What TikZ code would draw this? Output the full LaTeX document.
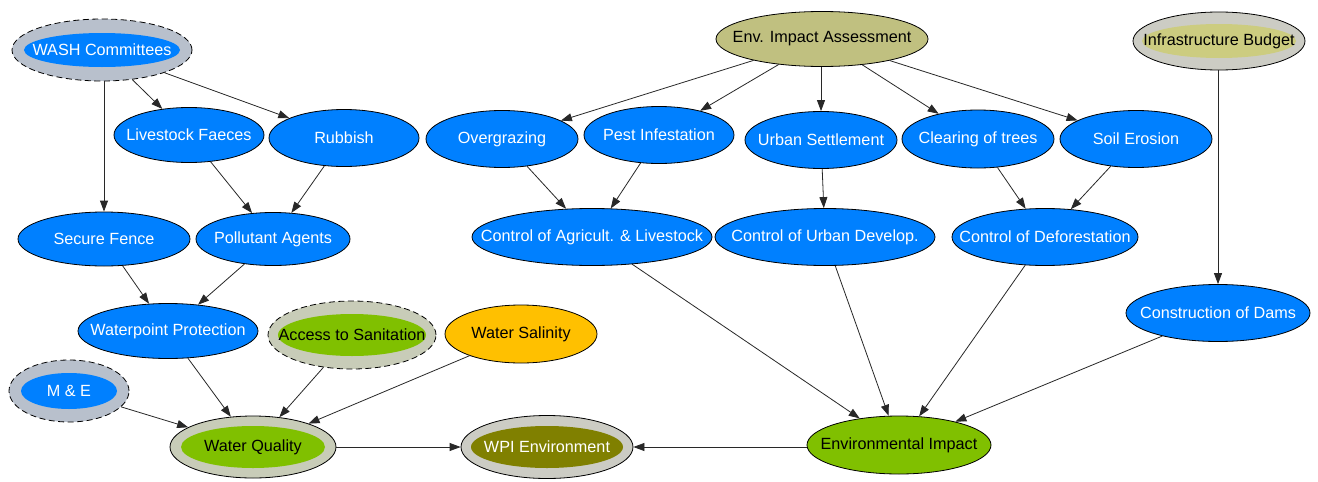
\documentclass[tikz,border=0pt]{standalone}
\usepackage{fontspec}
\setmainfont{Liberation Sans}
\usetikzlibrary{shapes.geometric,arrows.meta}
\definecolor{nblue}{RGB}{0,128,255}
\definecolor{ngreen}{RGB}{128,192,0}
\definecolor{norange}{RGB}{255,192,0}
\definecolor{nkhaki}{RGB}{192,192,128}
\definecolor{nkhakil}{RGB}{204,204,128}
\definecolor{nolive}{RGB}{128,128,0}
\definecolor{ringblue}{RGB}{184,192,204}
\definecolor{ringgreen}{RGB}{200,204,184}
\definecolor{ringgrey}{RGB}{204,204,196}
\definecolor{edgec}{RGB}{40,40,40}
\tikzset{
  nd/.style n args={3}{ellipse, draw=black, line width=0.8pt, inner sep=0pt,
    minimum width=#1pt, minimum height=#2pt, font=\fontsize{16.2}{19}\selectfont,
    execute at begin node={\hbox to 0pt\bgroup\hss}, execute at end node={\hss\egroup}, #3},
  bluen/.style={fill=nblue, text=white},
  greenn/.style={fill=ngreen, text=black},
  oranen/.style={fill=norange, text=black},
  khakin/.style={fill=nkhaki, text=black},
  ring/.style n args={4}{path picture={\fill[#1] (path picture bounding box.center) ellipse [x radius=#2pt, y radius=#3pt];}, fill=#4},
  dashring/.style={draw=black, dash pattern=on 6pt off 3.5pt},
  edge/.style={draw=edgec, line width=0.8pt, -{Triangle[length=11pt,width=8pt]}}
}
\begin{document}
\begin{tikzpicture}[x=1pt,y=-1pt]
\useasboundingbox[fill=white] (0,0) rectangle (1318,482);
% left cluster
\node[nd={180}{62}{bluen, dashring, ring={nblue}{78}{17}{ringblue}}] (wash) at (102,50) {WASH Committees};
\node[nd={150}{55}{bluen}] (lf) at (189,135) {Livestock Faeces};
\node[nd={150}{57}{bluen}] (rub) at (344,138) {Rubbish};
\node[nd={172}{54}{bluen}] (sf) at (104,239) {Secure Fence};
\node[nd={154}{53}{bluen}] (pa) at (273,239) {Pollutant Agents};
\node[nd={180}{55}{bluen}] (wp) at (168,331) {Waterpoint Protection};
\node[nd={168}{68}{greenn, dashring, ring={ngreen}{74}{21}{ringgreen}}] (as) at (352,335) {Access to Sanitation};
\node[nd={152}{58}{oranen}] (ws) at (521,334) {Water Salinity};
\node[nd={120}{62}{bluen, dashring, ring={nblue}{48}{18}{ringblue}}] (me) at (69,391) {M \& E};
\node[nd={166}{62}{greenn, ring={ngreen}{72}{21}{ringgreen}}] (wq) at (253,447) {Water Quality};
\node[nd={172}{63}{text=white, ring={nolive}{76}{21}{ringgrey}}] (wpi) at (547,447) {WPI Environment};
\node[nd={184}{58}{greenn}] (ei) at (899,445) {Environmental Impact};
% right cluster
\node[nd={212}{55}{khakin}] (eia) at (822,39) {Env. Impact Assessment};
\node[nd={172}{58}{text=black, ring={nkhakil}{77}{17}{ringgrey}}] (ib) at (1219,41) {Infrastructure Budget};
\node[nd={152}{57}{bluen}] (og) at (502,139) {Overgrazing};
\node[nd={150}{57}{bluen}] (pi) at (659,135) {Pest Infestation};
\node[nd={152}{57}{bluen}] (us) at (821,140) {Urban Settlement};
\node[nd={152}{58}{bluen}] (ct) at (978,139) {Clearing of trees};
\node[nd={152}{57}{bluen}] (se) at (1136,139) {Soil Erosion};
\node[nd={240}{57}{bluen}] (ca) at (592,237) {Control of Agricult. \& Livestock};
\node[nd={220}{57}{bluen}] (cu) at (825,237) {Control of Urban Develop.};
\node[nd={186}{57}{bluen}] (cd) at (1045,237) {Control of Deforestation};
\node[nd={184}{57}{bluen}] (cdm) at (1218,313) {Construction of Dams};
% edges
\draw[edge] (wash) -- (lf);
\draw[edge] (wash) -- (rub);
\draw[edge] (wash.south -| sf.north) -- (sf.north);
\draw[edge] (lf) -- (pa);
\draw[edge] (rub) -- (pa);
\draw[edge] (sf) -- (wp);
\draw[edge] (pa) -- (wp);
\draw[edge] (wp) -- (wq);
\draw[edge] (as) -- (wq);
\draw[edge] (ws) -- (wq);
\draw[edge] (me) -- (wq);
\draw[edge] (wq) -- (wpi);
\draw[edge] (ei.west |- wpi) -- (wpi.east);
\draw[edge] (eia) -- (og);
\draw[edge] (eia) -- (pi);
\draw[edge] (eia.south -| us.north) -- (us.north);
\draw[edge] (eia) -- (ct);
\draw[edge] (eia) -- (se);
\draw[edge] (og) -- (ca);
\draw[edge] (pi) -- (ca);
\draw[edge] (us) -- (cu);
\draw[edge] (ct) -- (cd);
\draw[edge] (se) -- (cd);
\draw[edge] (ca) -- (ei);
\draw[edge] (cu) -- (ei);
\draw[edge] (cd) -- (ei);
\draw[edge] (cdm) -- (ei);
\draw[edge] (ib.south -| cdm.north) -- (cdm.north);
\end{tikzpicture}
\end{document}
